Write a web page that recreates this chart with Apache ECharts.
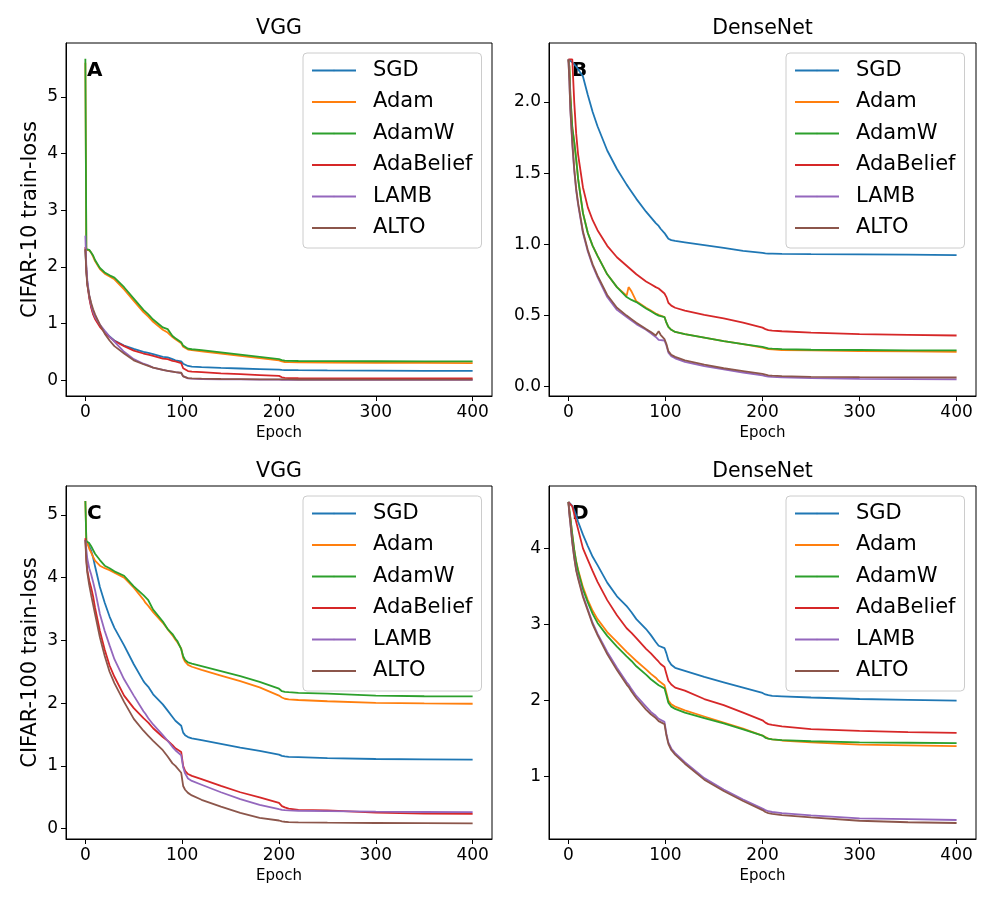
<!DOCTYPE html>
<html><head><meta charset="utf-8">
<script src="https://cdn.jsdelivr.net/npm/echarts@6/dist/echarts.min.js"></script>
<style>html,body{margin:0;padding:0;background:#fff}#c{width:997px;height:906px}</style>
</head><body><div id="c"></div>
<script>
// ---------------- data ----------------
const EPOCHS = [0,1,2,4,6,8,10, 15,20,25,30, 40,50,60,62,65,70, 80,85,90,93,95,99, 101,103,106,110,120, 140,160,180,200, 203,206,210,220, 250,300,350,400];
const OPTIMIZERS = ['SGD','Adam','AdamW','AdaBelief','LAMB','ALTO'];
const COLORS = ['#1f77b4','#ff7f0e','#2ca02c','#d62728','#9467bd','#8c564b'];
const X_TICKS = [0,100,200,300,400];
const A_Y_TICKS = [0,1,2,3,4,5];
const B_Y_TICKS = [0,0.5,1,1.5,2];
const C_Y_TICKS = [0,1,2,3,4,5];
const D_Y_TICKS = [1,2,3,4];
const PANEL_TITLES = ['VGG','DenseNet','VGG','DenseNet'];
const PANEL_LETTERS = ['A','B','C','D'];
const Y_NAMES = ['CIFAR-10 train-loss','','CIFAR-100 train-loss',''];

// Panel A: CIFAR-10 / VGG
const A_SGD = [2.30,1.95,1.72,1.47,1.30,1.18,1.10, 0.96,0.86,0.77,0.70, 0.61,0.55,0.50,0.49,0.48,0.46, 0.41,0.40,0.37,0.35,0.34,0.33, 0.29,0.26,0.25,0.24,0.23, 0.215,0.205,0.195,0.185, 0.18,0.178,0.177,0.175, 0.172,0.168,0.165,0.163];
const A_Adam = [5.60,2.30,2.30,2.29,2.25,2.18,2.10, 1.96,1.88,1.83,1.78, 1.60,1.40,1.20,1.17,1.12,1.03, 0.89,0.84,0.76,0.72,0.70,0.65, 0.59,0.56,0.54,0.53,0.51, 0.47,0.43,0.39,0.35, 0.33,0.32,0.318,0.314, 0.31,0.306,0.304,0.30];
const A_AdamW = [5.67,2.31,2.30,2.30,2.27,2.20,2.12, 1.98,1.90,1.85,1.81, 1.64,1.44,1.24,1.21,1.16,1.07, 0.93,0.90,0.78,0.74,0.72,0.67, 0.61,0.575,0.555,0.545,0.53, 0.49,0.45,0.41,0.37, 0.355,0.345,0.34,0.338, 0.335,0.333,0.332,0.332];
const A_AdaBelief = [2.35,1.95,1.70,1.45,1.28,1.16,1.08, 0.94,0.84,0.76,0.69, 0.60,0.52,0.47,0.46,0.45,0.43, 0.38,0.37,0.34,0.33,0.32,0.30, 0.21,0.175,0.16,0.15,0.14, 0.12,0.105,0.09,0.075, 0.05,0.04,0.036,0.034, 0.032,0.03,0.03,0.03];
const A_LAMB = [2.55,2.00,1.76,1.50,1.33,1.21,1.12, 0.98,0.87,0.77,0.68, 0.50,0.37,0.29,0.28,0.26,0.22, 0.18,0.165,0.15,0.14,0.135,0.125, 0.07,0.045,0.032,0.026,0.02, 0.015,0.012,0.01,0.008, 0.007,0.006,0.006,0.006, 0.005,0.005,0.005,0.005];
const A_ALTO = [2.32,1.90,1.68,1.50,1.36,1.25,1.16, 0.98,0.82,0.70,0.60, 0.47,0.35,0.28,0.27,0.25,0.22, 0.18,0.165,0.15,0.14,0.135,0.13, 0.065,0.045,0.035,0.03,0.025, 0.02,0.018,0.015,0.013, 0.012,0.012,0.012,0.011, 0.011,0.01,0.01,0.01];

// Panel B: CIFAR-10 / DenseNet
const B_SGD = [2.30,2.30,2.29,2.28,2.27,2.25,2.23, 2.18,2.05,1.93,1.83, 1.66,1.53,1.42,1.40,1.37,1.32, 1.23,1.19,1.15,1.13,1.11,1.08, 1.06,1.04,1.03,1.025,1.015, 0.995,0.975,0.955,0.94, 0.937,0.935,0.935,0.934, 0.932,0.93,0.928,0.925];
const B_Adam = [2.30,2.25,2.05,1.82,1.72,1.60,1.46, 1.22,1.08,0.99,0.92, 0.79,0.70,0.64,0.70,0.67,0.60, 0.555,0.535,0.515,0.505,0.50,0.49, 0.45,0.42,0.40,0.385,0.37, 0.345,0.32,0.30,0.275, 0.27,0.265,0.262,0.258, 0.255,0.25,0.248,0.246];
const B_AdamW = [2.30,2.25,2.05,1.82,1.72,1.60,1.46, 1.22,1.08,0.99,0.92, 0.79,0.70,0.63,0.62,0.61,0.595, 0.55,0.53,0.51,0.50,0.495,0.49, 0.45,0.42,0.40,0.385,0.37, 0.345,0.32,0.30,0.28, 0.275,0.27,0.268,0.264, 0.26,0.258,0.256,0.255];
const B_AdaBelief = [2.30,2.30,2.30,2.30,2.00,1.78,1.63, 1.40,1.26,1.17,1.10, 0.99,0.91,0.85,0.84,0.82,0.79, 0.74,0.72,0.70,0.69,0.68,0.655, 0.63,0.59,0.57,0.555,0.535, 0.505,0.48,0.45,0.415, 0.405,0.398,0.395,0.39, 0.38,0.37,0.365,0.36];
const B_LAMB = [2.30,2.15,1.95,1.70,1.52,1.38,1.28, 1.08,0.95,0.85,0.77, 0.63,0.54,0.49,0.48,0.465,0.44, 0.40,0.375,0.35,0.33,0.33,0.325, 0.29,0.24,0.215,0.20,0.175, 0.145,0.122,0.10,0.08, 0.075,0.072,0.07,0.066, 0.06,0.056,0.054,0.052];
const B_ALTO = [2.30,2.15,1.95,1.72,1.53,1.39,1.29, 1.09,0.96,0.86,0.78, 0.645,0.555,0.50,0.49,0.475,0.45, 0.405,0.385,0.36,0.39,0.365,0.335, 0.30,0.25,0.225,0.21,0.185, 0.155,0.13,0.11,0.09, 0.085,0.08,0.078,0.074, 0.07,0.067,0.066,0.065];

// Panel C: CIFAR-100 / VGG
const C_SGD = [4.61,4.58,4.56,4.50,4.43,4.32,4.18, 3.85,3.60,3.38,3.20, 2.92,2.62,2.35,2.31,2.26,2.14, 1.98,1.88,1.78,1.72,1.69,1.64, 1.53,1.49,1.46,1.44,1.41, 1.35,1.29,1.24,1.18, 1.16,1.15,1.145,1.14, 1.125,1.11,1.105,1.10];
const C_Adam = [5.22,4.60,4.55,4.46,4.40,4.33,4.27, 4.19,4.15,4.12,4.08, 4.00,3.84,3.65,3.60,3.55,3.45, 3.28,3.18,3.08,3.01,2.97,2.87, 2.72,2.66,2.61,2.58,2.53, 2.44,2.35,2.25,2.12, 2.09,2.07,2.06,2.05, 2.03,2.005,1.995,1.99];
const C_AdamW = [5.22,4.58,4.57,4.55,4.50,4.44,4.38, 4.28,4.19,4.15,4.10, 4.03,3.86,3.72,3.69,3.64,3.49, 3.30,3.18,3.10,3.03,2.99,2.86, 2.75,2.69,2.65,2.63,2.59, 2.51,2.43,2.34,2.23, 2.19,2.18,2.175,2.165, 2.15,2.12,2.11,2.107];
const C_AdaBelief = [4.63,4.30,4.12,3.95,3.84,3.70,3.52, 3.15,2.85,2.60,2.42, 2.12,1.92,1.76,1.73,1.69,1.60, 1.46,1.40,1.33,1.28,1.25,1.22, 1.00,0.92,0.87,0.84,0.79, 0.68,0.58,0.50,0.41, 0.36,0.34,0.32,0.30, 0.29,0.255,0.24,0.235];
const C_LAMB = [4.60,4.45,4.30,4.15,4.05,3.93,3.80, 3.42,3.15,2.92,2.70, 2.38,2.12,1.87,1.83,1.76,1.66, 1.49,1.40,1.30,1.25,1.22,1.17, 0.98,0.88,0.80,0.76,0.70, 0.58,0.47,0.38,0.31, 0.30,0.295,0.29,0.285, 0.28,0.27,0.265,0.262];
const C_ALTO = [4.60,4.25,4.08,3.88,3.72,3.57,3.42, 3.05,2.75,2.50,2.32, 2.02,1.75,1.56,1.53,1.48,1.40, 1.25,1.15,1.04,1.00,0.97,0.89, 0.68,0.62,0.57,0.53,0.46, 0.35,0.25,0.17,0.13, 0.115,0.11,0.105,0.10, 0.095,0.09,0.088,0.085];

// Panel D: CIFAR-100 / DenseNet
const D_SGD = [4.61,4.60,4.59,4.56,4.50,4.43,4.35, 4.18,4.03,3.89,3.78, 3.55,3.37,3.24,3.21,3.16,3.07, 2.94,2.86,2.77,2.72,2.70,2.69, 2.62,2.53,2.47,2.43,2.39, 2.31,2.24,2.17,2.10, 2.08,2.07,2.06,2.055, 2.04,2.02,2.01,2.00];
const D_Adam = [4.61,4.50,4.40,4.18,3.98,3.83,3.72, 3.49,3.32,3.18,3.07, 2.90,2.77,2.64,2.62,2.58,2.52, 2.41,2.35,2.30,2.26,2.24,2.20, 2.10,2.00,1.95,1.92,1.87, 1.79,1.71,1.63,1.54, 1.52,1.50,1.49,1.475, 1.45,1.42,1.41,1.40];
const D_AdamW = [4.61,4.50,4.40,4.18,3.98,3.82,3.70, 3.46,3.29,3.14,3.02, 2.85,2.71,2.58,2.56,2.52,2.45, 2.34,2.28,2.23,2.20,2.19,2.16, 2.07,1.97,1.92,1.89,1.84, 1.77,1.70,1.62,1.54, 1.51,1.50,1.49,1.48, 1.465,1.45,1.445,1.44];
const D_AdaBelief = [4.61,4.61,4.60,4.55,4.45,4.35,4.25, 4.00,3.85,3.70,3.56, 3.32,3.12,2.95,2.93,2.89,2.82, 2.68,2.62,2.55,2.51,2.48,2.44, 2.35,2.26,2.21,2.17,2.13, 2.02,1.94,1.84,1.74, 1.71,1.69,1.68,1.66, 1.625,1.60,1.585,1.575];
const D_LAMB = [4.61,4.45,4.33,4.08,3.88,3.72,3.62, 3.38,3.20,3.02,2.88, 2.64,2.43,2.24,2.21,2.15,2.06, 1.92,1.85,1.80,1.76,1.74,1.72, 1.56,1.45,1.37,1.31,1.19, 0.98,0.83,0.70,0.58, 0.56,0.545,0.535,0.52, 0.49,0.45,0.44,0.43];
const D_ALTO = [4.61,4.45,4.33,4.08,3.88,3.71,3.60, 3.36,3.18,3.00,2.86, 2.61,2.40,2.21,2.18,2.12,2.03, 1.88,1.82,1.77,1.73,1.71,1.69, 1.54,1.43,1.35,1.29,1.17, 0.96,0.81,0.68,0.56, 0.535,0.52,0.51,0.495, 0.465,0.42,0.40,0.39];

// ---------------- layout ----------------
const FONT = 'DejaVu Sans';
const PANEL_SERIES = [
  [A_SGD,A_Adam,A_AdamW,A_AdaBelief,A_LAMB,A_ALTO],
  [B_SGD,B_Adam,B_AdamW,B_AdaBelief,B_LAMB,B_ALTO],
  [C_SGD,C_Adam,C_AdamW,C_AdaBelief,C_LAMB,C_ALTO],
  [D_SGD,D_Adam,D_AdamW,D_AdaBelief,D_LAMB,D_ALTO]
];
const Y_TICKS = [A_Y_TICKS,B_Y_TICKS,C_Y_TICKS,D_Y_TICKS];
const Y_RANGES = [[-0.28,5.95],[-0.065,2.415],[-0.165,5.46],[0.18,4.82]];
const Y_DECIMALS = [0,1,0,0];
const GRIDS = [
  {left:66, top:43, width:426, height:353},
  {left:549, top:43, width:427, height:353},
  {left:66, top:486, width:426, height:353},
  {left:549, top:486, width:427, height:353}
];

const grid = [], xAxis = [], yAxis = [], series = [], legend = [], graphic = [];
GRIDS.forEach((g, p) => {
  grid.push(Object.assign({show:true, borderColor:'#000', borderWidth:1, backgroundColor:'transparent',
    containLabel:false, outerBoundsMode:'none'}, g));
  xAxis.push({
    type:'value', gridIndex:p, min:-20, max:420, position:'bottom',
    axisLine:{show:true, onZero:false, lineStyle:{color:'#000', width:1}}, splitLine:{show:false},
    axisTick:{show:true, inside:false, length:5, lineStyle:{color:'#000', width:1}, customValues:X_TICKS},
    axisLabel:{customValues:X_TICKS, fontSize:17, color:'#000', fontFamily:FONT, margin:8},
    name:'Epoch', nameLocation:'middle', nameGap:30,
    nameTextStyle:{fontSize:15, color:'#000', fontFamily:FONT}
  });
  yAxis.push({
    type:'value', gridIndex:p, min:Y_RANGES[p][0], max:Y_RANGES[p][1], position:'left',
    axisLine:{show:true, onZero:false, lineStyle:{color:'#000', width:1}}, splitLine:{show:false},
    axisTick:{show:true, inside:false, length:5, lineStyle:{color:'#000', width:1}, customValues:Y_TICKS[p]},
    axisLabel:{customValues:Y_TICKS[p], fontSize:17, color:'#000', fontFamily:FONT, margin:8,
      formatter: v => Number(v).toFixed(Y_DECIMALS[p])},
    name:Y_NAMES[p], nameLocation:'middle', nameGap:25,
    nameTextStyle:{fontSize:21, color:'#000', fontFamily:FONT}
  });
  OPTIMIZERS.forEach((name, k) => {
    const vals = PANEL_SERIES[p][k];
    series.push({
      type:'line', name, xAxisIndex:p, yAxisIndex:p,
      data: EPOCHS.map((e, i) => [e, vals[i]]),
      showSymbol:false, symbol:'none', smooth:false,
      lineStyle:{color:COLORS[k], width:1.8},
      itemStyle:{color:COLORS[k]},
      emphasis:{disabled:true}, animation:false
    });
  });
  legend.push({
    data: OPTIMIZERS, orient:'vertical',
    left: g.left + 237, top: g.top + 10,
    itemWidth:44, itemHeight:2, itemGap:10.5,
    padding:[7,9,9.5,8],
    backgroundColor:'rgba(255,255,255,0.8)', borderColor:'#cccccc', borderWidth:1, borderRadius:4,
    textStyle:{fontSize:21, lineHeight:21, color:'#000', fontFamily:FONT, padding:[0,0,0,12]},
    selectedMode:false
  });
  graphic.push({
    type:'text', x: g.left + g.width/2, y: g.top - 14.5,
    style:{text:PANEL_TITLES[p], fontSize:20.5, fontFamily:FONT, fill:'#000', align:'center', verticalAlign:'middle'}
  });
  graphic.push({
    type:'text', x: g.left + (p % 2 === 0 ? 21 : 23), y: g.top + 28,
    style:{text:PANEL_LETTERS[p], fontSize:20, fontWeight:'bold', fontFamily:FONT, fill:'#000', align:'left', verticalAlign:'middle'}
  });
});

const chart = echarts.init(document.getElementById('c'), null, {renderer:'canvas'});
chart.setOption({
  animation:false, backgroundColor:'#fff',
  grid, xAxis, yAxis, series, legend, graphic
});
</script></body></html>
